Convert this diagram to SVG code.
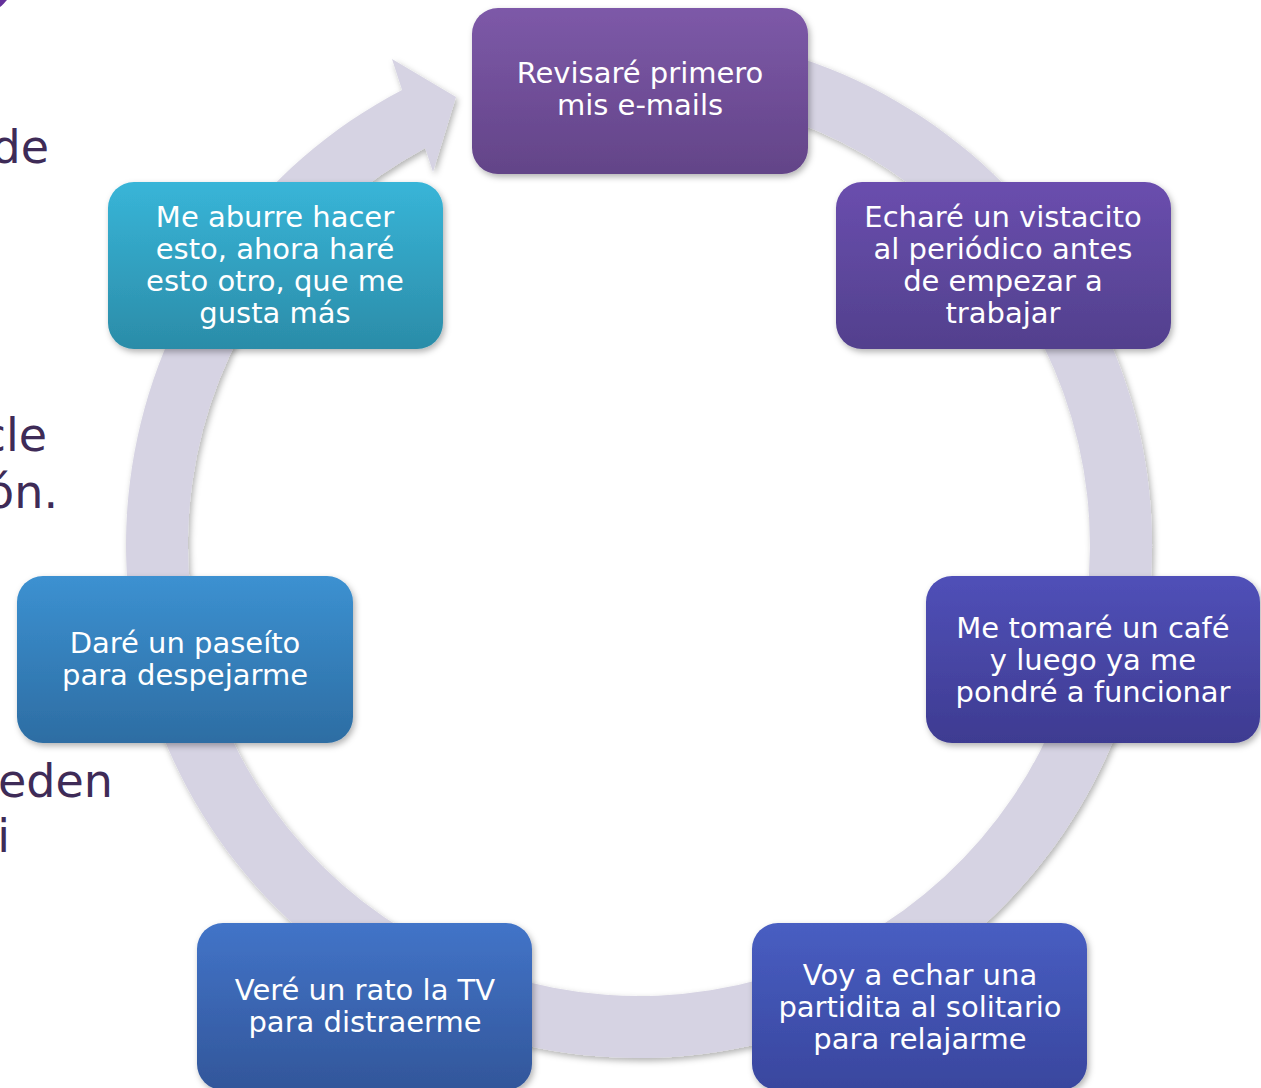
<svg xmlns="http://www.w3.org/2000/svg" width="1261" height="1088" viewBox="0 0 1261 1088">
<style>
.bg{font-family:"DejaVu Sans",Verdana,sans-serif;font-size:46px;fill:#3E2B57;text-anchor:end}
.lbl{font-family:"DejaVu Sans",Verdana,sans-serif;font-size:29px;fill:#FFFFFF;text-anchor:middle}
.ring{fill:#D6D3E3;filter:url(#sh)}
.box{filter:url(#sh)}
</style>
<defs>
<filter id="sh" x="-10%" y="-10%" width="120%" height="120%">
<feDropShadow dx="2" dy="3" stdDeviation="3" flood-color="#000" flood-opacity="0.3"/>
</filter>
<linearGradient id="g1" x1="0" y1="0" x2="0" y2="1"><stop offset="0" stop-color="#7D59A8"/><stop offset="1" stop-color="#634488"/></linearGradient>
<linearGradient id="g2" x1="0" y1="0" x2="0" y2="1"><stop offset="0" stop-color="#6A4EAE"/><stop offset="1" stop-color="#52408D"/></linearGradient>
<linearGradient id="g3" x1="0" y1="0" x2="0" y2="1"><stop offset="0" stop-color="#5050B8"/><stop offset="1" stop-color="#3E3B91"/></linearGradient>
<linearGradient id="g4" x1="0" y1="0" x2="0" y2="1"><stop offset="0" stop-color="#485EC2"/><stop offset="1" stop-color="#39469E"/></linearGradient>
<linearGradient id="g5" x1="0" y1="0" x2="0" y2="1"><stop offset="0" stop-color="#4274C8"/><stop offset="1" stop-color="#32569A"/></linearGradient>
<linearGradient id="g6" x1="0" y1="0" x2="0" y2="1"><stop offset="0" stop-color="#3C91D1"/><stop offset="1" stop-color="#2D6DA3"/></linearGradient>
<linearGradient id="g7" x1="0" y1="0" x2="0" y2="1"><stop offset="0" stop-color="#38B5D8"/><stop offset="1" stop-color="#2B8CA8"/></linearGradient>
</defs>
<rect width="1261" height="1088" fill="#FFFFFF"/>
<circle cx="-30" cy="-30" r="47.6" fill="#64309A"/>
<g id="background-text">
<text class="bg" x="49" y="163">de</text>
<text class="bg" x="47" y="451">cle</text>
<text class="bg" x="58" y="508">ón.</text>
<text class="bg" x="113" y="797">eden</text>
<text class="bg" x="10" y="852">i</text>
</g>
<g id="connectors">
<path class="ring" d="M728.1,39.8 A513,513 0 1 1 402.1,90 L392,59 L456,97 L433,172 L425.2,147.9 A451,451 0 1 0 717.3,100.9 Z"/>
</g>
<g id="node1">
<rect class="box" x="472" y="8" width="336" height="166" rx="26" fill="url(#g1)"/>
<text class="lbl" x="640" y="83">Revisaré primero</text>
<text class="lbl" x="640" y="115">mis e-mails</text>
</g>
<g id="node2">
<rect class="box" x="836" y="182" width="335" height="167" rx="26" fill="url(#g2)"/>
<text class="lbl" x="1003" y="227">Echaré un vistacito</text>
<text class="lbl" x="1003" y="259">al periódico antes</text>
<text class="lbl" x="1003" y="291">de empezar a</text>
<text class="lbl" x="1003" y="323">trabajar</text>
</g>
<g id="node3">
<rect class="box" x="926" y="576" width="334" height="167" rx="26" fill="url(#g3)"/>
<text class="lbl" x="1093" y="638">Me tomaré un café</text>
<text class="lbl" x="1093" y="670">y luego ya me</text>
<text class="lbl" x="1093" y="702">pondré a funcionar</text>
</g>
<g id="node4">
<rect class="box" x="752" y="923" width="335" height="167" rx="26" fill="url(#g4)"/>
<text class="lbl" x="920" y="985">Voy a echar una</text>
<text class="lbl" x="920" y="1017">partidita al solitario</text>
<text class="lbl" x="920" y="1049">para relajarme</text>
</g>
<g id="node5">
<rect class="box" x="197" y="923" width="335" height="167" rx="26" fill="url(#g5)"/>
<text class="lbl" x="365" y="1000">Veré un rato la TV</text>
<text class="lbl" x="365" y="1032">para distraerme</text>
</g>
<g id="node6">
<rect class="box" x="17" y="576" width="336" height="167" rx="26" fill="url(#g6)"/>
<text class="lbl" x="185" y="653">Daré un paseíto</text>
<text class="lbl" x="185" y="685">para despejarme</text>
</g>
<g id="node7">
<rect class="box" x="108" y="182" width="335" height="167" rx="26" fill="url(#g7)"/>
<text class="lbl" x="275" y="227">Me aburre hacer</text>
<text class="lbl" x="275" y="259">esto, ahora haré</text>
<text class="lbl" x="275" y="291">esto otro, que me</text>
<text class="lbl" x="275" y="323">gusta más</text>
</g>
</svg>
